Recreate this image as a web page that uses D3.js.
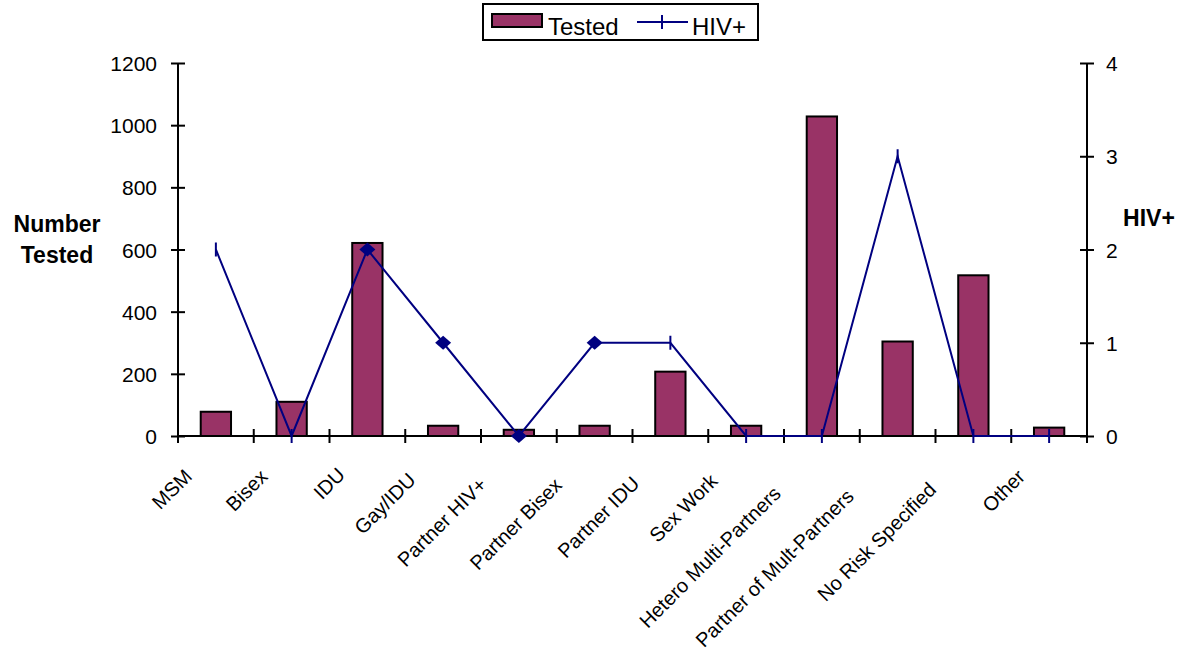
<!DOCTYPE html>
<html>
<head>
<meta charset="utf-8">
<script src="https://cdn.jsdelivr.net/npm/d3@7"></script>
<style>
  html, body { margin: 0; padding: 0; background: #fff; }
  svg { display: block; font-family: "Liberation Sans", Arial, sans-serif; }
</style>
</head>
<body>
<svg id="chart" width="1186" height="653"></svg>
<script>
// Risk categories and counts
const categories = ["MSM", "Bisex", "IDU", "Gay/IDU", "Partner HIV+", "Partner Bisex",
  "Partner IDU", "Sex Work", "Hetero Multi-Partners", "Partner of Mult-Partners",
  "No Risk Specified", "Other"];
const tested = [78, 110, 621, 33, 20, 33, 207, 33, 1028, 304, 517, 27];
const hivPositive = [2, 0, 2, 1, 0, 1, 1, 0, 0, 3, 0, 0];
const leftTicks = [0, 200, 400, 600, 800, 1000, 1200];
const rightTicks = [0, 1, 2, 3, 4];

// Points drawn with a diamond marker; the rest use a short vertical dash
const diamondPoints = new Set(["IDU", "Gay/IDU", "Partner HIV+", "Partner Bisex"]);

const BAR = "#993366", LINE = "#000080";
const FONT = "'Liberation Sans', Arial, sans-serif";
const svg = d3.select("#chart");
const plotLeft = 178, plotRight = 1087, plotTop = 63, plotBottom = 436;

const x = d3.scaleBand().domain(categories).range([plotLeft, plotRight]).padding(0);
const yL = d3.scaleLinear().domain([0, 1200]).range([plotBottom, plotTop]);
const yR = d3.scaleLinear().domain([0, 4]).range([plotBottom, plotTop]);
const cx = c => x(c) + x.bandwidth() / 2;
const barW = x.bandwidth() * 0.4;

// Bars
svg.append("g").selectAll("rect").data(categories).join("rect")
  .attr("x", c => cx(c) - barW / 2)
  .attr("y", (c, i) => yL(tested[i]))
  .attr("width", barW)
  .attr("height", (c, i) => yL(0) - yL(tested[i]))
  .attr("fill", BAR).attr("stroke", "#000").attr("stroke-width", 2);

// Left axis
const gL = svg.append("g").attr("transform", `translate(${plotLeft},0)`)
  .call(d3.axisLeft(yL).tickValues(leftTicks).tickFormat(d3.format("d")).tickSize(7).tickPadding(14));
gL.select(".domain").attr("stroke", "#000").attr("stroke-width", 2).attr("d", `M0,${plotTop}V${plotBottom}`);
gL.selectAll(".tick line").attr("x1", 7).attr("stroke-width", 2);
gL.selectAll(".tick text").attr("font-size", 21).attr("fill", "#000")
  .attr("font-family", FONT).attr("dy", "0.36em");

// Right axis
const gR = svg.append("g").attr("transform", `translate(${plotRight},0)`)
  .call(d3.axisRight(yR).tickValues(rightTicks).tickFormat(d3.format("d")).tickSize(7).tickPadding(12));
gR.select(".domain").attr("stroke", "#000").attr("stroke-width", 2).attr("d", `M0,${plotTop}V${plotBottom}`);
gR.selectAll(".tick line").attr("x1", -7).attr("stroke-width", 2);
gR.selectAll(".tick text").attr("font-size", 21).attr("fill", "#000")
  .attr("font-family", FONT).attr("dy", "0.36em");

// Bottom axis with ticks between categories
const gB = svg.append("g");
gB.append("line").attr("x1", plotLeft).attr("x2", plotRight).attr("y1", plotBottom).attr("y2", plotBottom)
  .attr("stroke", "#000").attr("stroke-width", 2);
const bounds = categories.map(c => x(c)).concat([x.range()[1]]);
gB.selectAll("line.tk").data(bounds).join("line").attr("class", "tk")
  .attr("x1", d => d).attr("x2", d => d).attr("y1", plotBottom - 7).attr("y2", plotBottom + 7)
  .attr("stroke", "#000").attr("stroke-width", 2);

// Rotated category labels
gB.selectAll("text").data(categories).join("text")
  .attr("transform", c => `translate(${cx(c) - 17},472) rotate(-45)`)
  .attr("text-anchor", "end").attr("font-size", 20).attr("fill", "#000")
  .text(c => c)
  .each(function () {
    const len = this.getComputedTextLength();
    d3.select(this).attr("dx", -0.17 * len);
  });

// HIV+ line
const line = d3.line().x(c => cx(c)).y((c, i) => yR(hivPositive[i]));
svg.append("path").datum(categories).attr("d", line)
  .attr("fill", "none").attr("stroke", LINE).attr("stroke-width", 2);

const markers = svg.append("g");
categories.forEach((c, i) => {
  const px = cx(c), py = yR(hivPositive[i]);
  if (diamondPoints.has(c)) {
    markers.append("path")
      .attr("d", `M${px - 8},${py}L${px},${py - 7}L${px + 8},${py}L${px},${py + 7}Z`)
      .attr("fill", LINE);
  } else {
    markers.append("line").attr("x1", px).attr("x2", px).attr("y1", py - 7).attr("y2", py + 7)
      .attr("stroke", LINE).attr("stroke-width", 2);
  }
});

// Axis titles
const tl = svg.append("text").attr("text-anchor", "middle").attr("font-size", 23)
  .attr("font-weight", "bold").attr("fill", "#000");
tl.append("tspan").attr("x", 57).attr("y", 232).text("Number");
tl.append("tspan").attr("x", 57).attr("y", 263).text("Tested");
svg.append("text").attr("x", 1149).attr("y", 226).attr("text-anchor", "middle")
  .attr("font-size", 23).attr("font-weight", "bold").attr("fill", "#000").text("HIV+");

// Legend
const lg = svg.append("g");
lg.append("rect").attr("x", 483).attr("y", 4).attr("width", 275).attr("height", 36)
  .attr("fill", "#fff").attr("stroke", "#000").attr("stroke-width", 2);
lg.append("rect").attr("x", 492).attr("y", 14).attr("width", 50).attr("height", 13)
  .attr("fill", BAR).attr("stroke", "#000").attr("stroke-width", 2);
lg.append("text").attr("x", 548).attr("y", 35).attr("font-size", 24).attr("fill", "#000").text("Tested");
lg.append("line").attr("x1", 637).attr("x2", 688).attr("y1", 22).attr("y2", 22)
  .attr("stroke", LINE).attr("stroke-width", 2);
lg.append("line").attr("x1", 662).attr("x2", 662).attr("y1", 15).attr("y2", 29)
  .attr("stroke", LINE).attr("stroke-width", 2);
lg.append("text").attr("x", 692).attr("y", 35).attr("font-size", 24).attr("fill", "#000").text("HIV+");
</script>
</body>
</html>
